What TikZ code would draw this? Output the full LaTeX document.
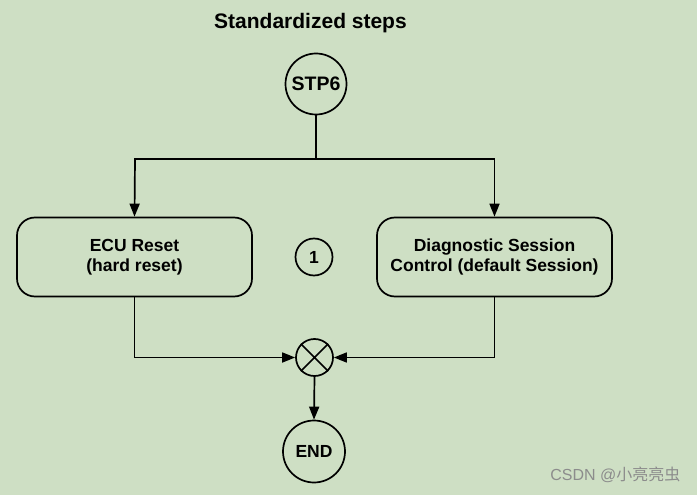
\documentclass[tikz,border=0pt]{standalone}
\usepackage{fontspec}
\setmainfont{Liberation Sans}
\newfontfamily\cjkfont{Noto Sans CJK SC}
\usetikzlibrary{arrows.meta}
\definecolor{bgc}{RGB}{206,223,196}
\definecolor{wmc}{RGB}{140,140,140}
\tikzset{
  lbl/.style={font=\fontsize{17.5}{20.5}\selectfont\bfseries, align=center},
  circ/.style={circle, draw, line width=1.7pt, inner sep=0pt},
  stepbox/.style={draw, line width=1.7pt, rounded corners=18pt, minimum width=235pt, minimum height=79pt, lbl},
  conn/.style={line width=1.7pt},
  arr/.style={line width=1.7pt, -{Triangle[length=13pt,width=10pt]}},
}
\begin{document}
\begin{tikzpicture}[x=1pt,y=-1pt]
\fill[bgc] (0,0) rectangle (697,495);
\useasboundingbox (0,0) rectangle (697,495);
\node[font=\fontsize{21}{24}\selectfont\bfseries] (title) at (310.5,23) {Standardized steps};
\node[circ, minimum size=61pt, lbl, font=\fontsize{19.5}{22}\selectfont\bfseries] (stp) at (316,84) {STP6};
\coordinate (split) at (316,159);
\coordinate (lt) at (135,159);
\coordinate (rt) at (494.5,159);
\node[stepbox] (ecu) at (134.5,257) {ECU Reset\\(hard reset)};
\node[stepbox] (dsc) at (494.5,257) {Diagnostic Session\\Control (default Session)};
\node[circ, minimum size=37pt, lbl] (one) at (314,257) {1};
\node[circ, minimum size=37pt] (mrg) at (314.5,357.5) {};
\draw[conn] (mrg.north west) -- (mrg.south east) (mrg.north east) -- (mrg.south west);
\node[circ, minimum size=62pt, lbl] (endn) at (314,451.5) {END};
\coordinate (lb) at (134.5,357.5);
\coordinate (rb) at (494.5,357.5);
\draw[conn] (stp.south) -- (split);
\draw[arr] (split) -- (lt) -- (ecu.north);
\draw[arr] (split) -- (rt) -- (dsc.north);
\draw[arr] (ecu.south) -- (lb) -- (mrg.west);
\draw[arr] (dsc.south) -- (rb) -- (mrg.east);
\draw[arr] (mrg.south) -- (endn.north);
\node[text=wmc, anchor=east, font=\fontsize{16}{19}\selectfont] (wm) at (684,475) {CSDN @{\cjkfont 小亮亮虫}};
\end{tikzpicture}
\end{document}
